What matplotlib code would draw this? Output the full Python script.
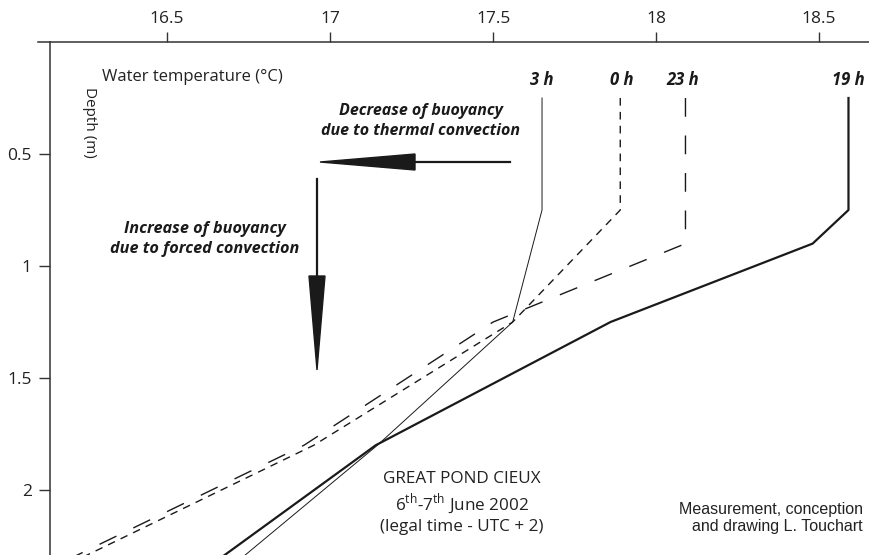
import matplotlib.pyplot as plt
from matplotlib.patches import Polygon

plt.rcParams['font.family'] = ['Open Sans', 'DejaVu Sans']
plt.rcParams['mathtext.fontset'] = 'custom'
plt.rcParams['mathtext.rm'] = 'Open Sans'

# temperature profiles (depth in m, temperature in degC)
depth_19h = [0.25, 0.75, 0.9, 1.25, 1.8, 2.35]
temp_19h = [18.59, 18.59, 18.48, 17.86, 17.14, 16.62]

depth_23h = [0.25, 0.9, 1.25, 1.8, 2.35]
temp_23h = [18.09, 18.09, 17.50, 16.92, 16.14]

depth_0h = [0.25, 0.75, 1.25, 1.8, 2.35]
temp_0h = [17.89, 17.89, 17.56, 16.95, 16.17]

depth_3h = [0.25, 0.75, 1.25, 1.8, 2.35]
temp_3h = [17.65, 17.65, 17.56, 17.145, 16.69]

x_ticks = [16.5, 17, 17.5, 18, 18.5]
x_labels = ['16.5', '17', '17.5', '18', '18.5']
y_ticks = [0.5, 1, 1.5, 2]
y_labels = ['0.5', '1', '1.5', '2']

W, H = 870, 555


def fx(x):
    return x / W


def fy(y):
    return 1 - y / H


fig = plt.figure(figsize=(8.7, 5.55), dpi=100)
ax = fig.add_axes([38 / W, 0, 832 / W, 513 / H])

ax.plot(temp_19h, depth_19h, color='#1a1a1a', lw=1.6)
ax.plot(temp_23h, depth_23h, color='#1a1a1a', lw=1.0, dashes=(13.5, 13.5))
ax.plot(temp_0h, depth_0h, color='#1a1a1a', lw=1.0, dashes=(5.5, 4.5))
ax.plot(temp_3h, depth_3h, color='#1a1a1a', lw=0.7)

ax.set_xlim(16.104, 18.656)
ax.set_ylim(2.29, 0)

ax.spines['right'].set_visible(False)
ax.spines['bottom'].set_visible(False)
ax.spines['left'].set_position(('data', 16.14))
for s in ['top', 'left']:
    ax.spines[s].set_color('#333333')
    ax.spines[s].set_linewidth(1.1)

ax.xaxis.tick_top()
ax.set_xticks(x_ticks)
ax.set_xticklabels(x_labels)
ax.set_yticks(y_ticks)
ax.set_yticklabels(y_labels)
ax.tick_params(axis='x', direction='out', length=7, width=1, pad=4,
               labelsize=12.5, colors='#333333', labelcolor='#222222')
ax.tick_params(axis='y', direction='out', length=8, width=1, pad=5,
               labelsize=12.5, colors='#333333', labelcolor='#222222')

# axis titles
fig.text(fx(102), fy(77), 'Water temperature (°C)', fontsize=12,
         ha='left', va='center', color='#222222')
fig.text(fx(89), fy(122), 'Depth (m)', fontsize=11, rotation=270,
         ha='center', va='center', color='#222222')

# hour labels
bi = dict(fontsize=12, fontweight='bold', fontstyle='italic',
          ha='center', va='center', color='#1a1a1a')
fig.text(fx(542), fy(80), '3 h', **bi)
fig.text(fx(622), fy(80), '0 h', **bi)
fig.text(fx(683), fy(80), '23 h', **bi)
fig.text(fx(848), fy(80), '19 h', **bi)

fig.text(fx(421), fy(121), 'Decrease of buoyancy\ndue to thermal convection',
         fontsize=11.5, fontweight='bold', fontstyle='italic', ha='center',
         va='center', linespacing=1.35, color='#1a1a1a')
fig.text(fx(205), fy(239), 'Increase of buoyancy\ndue to forced convection',
         fontsize=11.7, fontweight='bold', fontstyle='italic', ha='center',
         va='center', linespacing=1.4, color='#1a1a1a')

# arrows
fig.add_artist(plt.Line2D([fx(510), fx(415)], [fy(162), fy(162)],
                          color='#1a1a1a', lw=1.6))
fig.add_artist(Polygon([(fx(415), fy(154)), (fx(415), fy(170)), (fx(320), fy(162))],
                       closed=True, color='#1a1a1a', transform=fig.transFigure))
fig.add_artist(plt.Line2D([fx(317), fx(317)], [fy(179), fy(276)],
                          color='#1a1a1a', lw=1.6))
fig.add_artist(Polygon([(fx(309), fy(276)), (fx(325), fy(276)), (fx(317), fy(370))],
                       closed=True, color='#1a1a1a', transform=fig.transFigure))

# captions
fig.text(fx(462), fy(503),
         'GREAT POND CIEUX\n6$^{\\mathrm{th}}$-7$^{\\mathrm{th}}$ June 2002\n(legal time - UTC + 2)',
         fontsize=12.3, ha='center', va='center', linespacing=1.25, color='#222222')
fig.text(fx(863), fy(518), 'Measurement, conception\nand drawing L. Touchart',
         fontsize=11.5, ha='right', va='center', family='Liberation Sans',
         linespacing=1.15, color='#222222')

fig.savefig('out.png', dpi=100, facecolor='white')
